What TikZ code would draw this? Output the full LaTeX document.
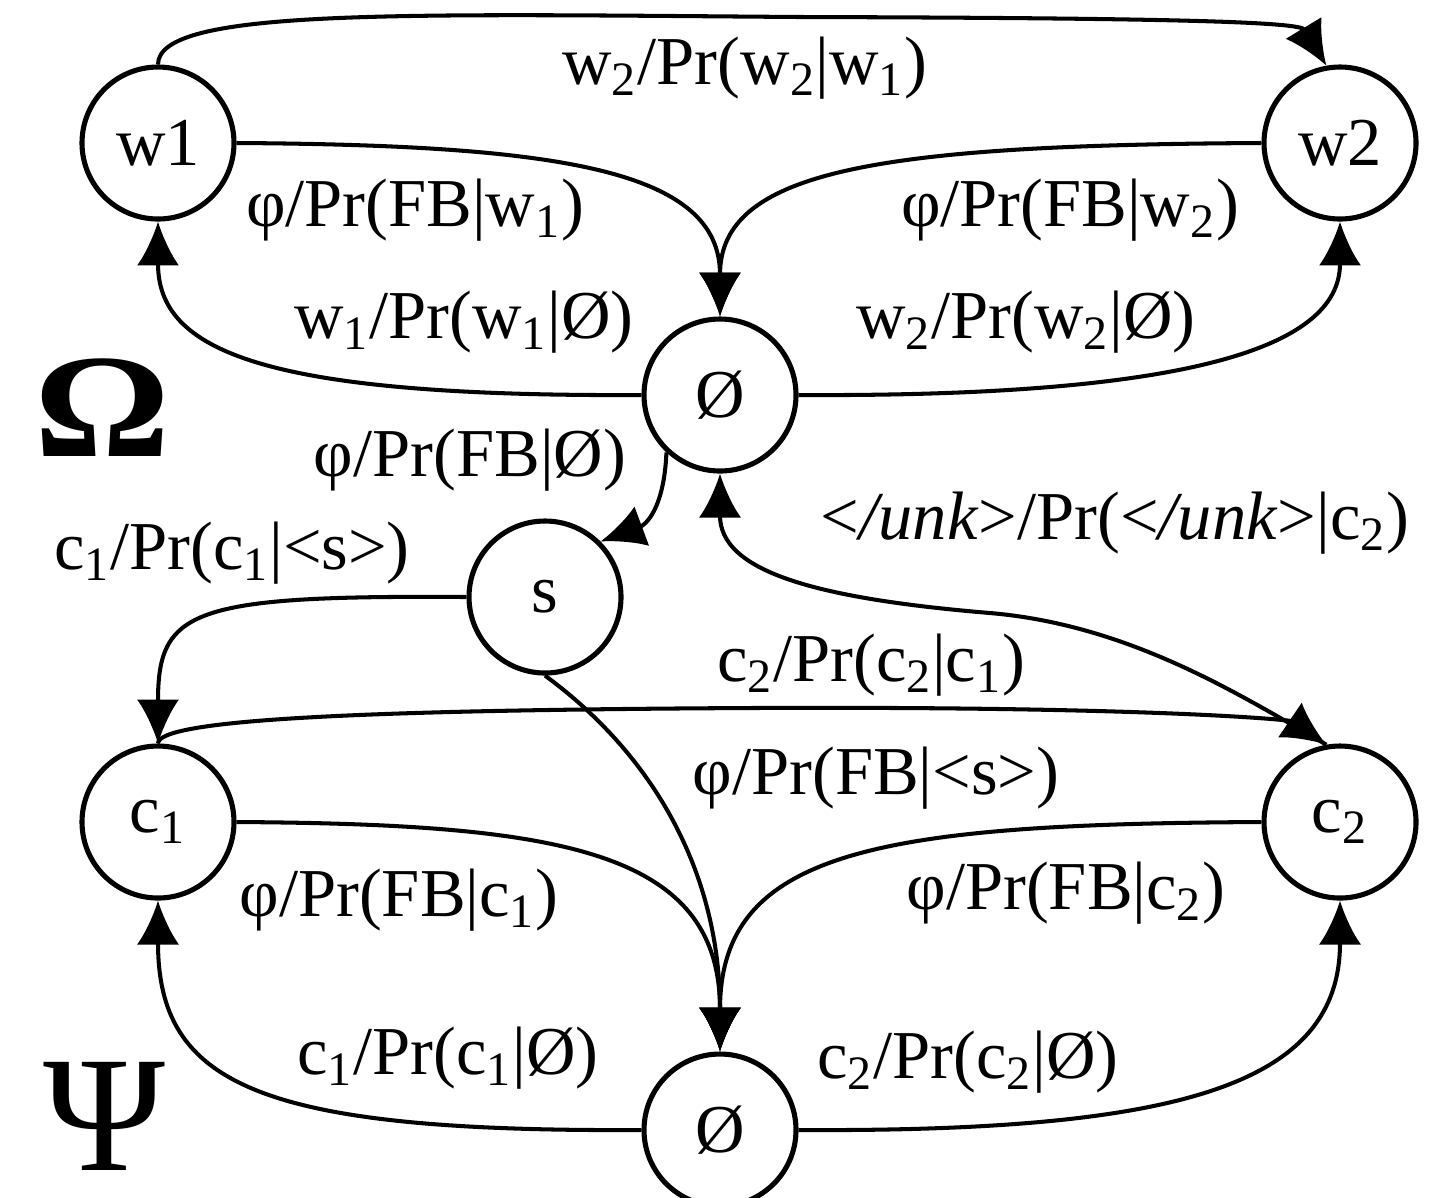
\documentclass[tikz,border=0pt]{standalone}
\usepackage{fontspec}
\setmainfont{Liberation Serif}
\usetikzlibrary{arrows.meta}
\newcommand{\low}[1]{\textsubscript{#1}}

\begin{document}
\begin{tikzpicture}[x=1cm,y=-1cm,
    state/.style={draw,circle,line width=1.45pt,minimum size=1.52cm,inner sep=0pt,font=\fontsize{19.5}{22}\selectfont},
    arc/.style={line width=1.15pt,-{Latex[length=12.5pt,width=12pt]}},
    lbl/.style={inner sep=0pt,font=\fontsize{19.5}{22}\selectfont}]
  \useasboundingbox (0,0) rectangle (14.3,11.97);
  % states
  \node[state] (w1) at (1.58,1.43) {w1};
  \node[state] (w2) at (13.40,1.43) {w2};
  \node[state] (nt) at (7.20,3.95) {Ø};
  \node[state] (s) at (5.45,5.97) {s};
  \node[state] (c1) at (1.58,8.22) {c\low{1}};
  \node[state] (c2) at (13.40,8.22) {c\low{2}};
  \node[state] (nb) at (7.20,11.30) {Ø};
  \node[inner sep=0pt,xscale=1.15] (omega) at (1.02,4.08) {\fontsize{42}{42}\selectfont\bfseries Ω};
  \node[inner sep=0pt] (psi) at (1.04,11.16) {\fontsize{47}{47}\selectfont Ψ};
  % Omega transitions
  \draw[arc] (w1.north) .. controls (1.58,0.08) and (4.0,0.14) .. (8.0,0.17)
    .. controls (11.8,0.18) and (13.0,0.22) .. (w2.100);
  \draw[arc] (w1.east) .. controls (5.6,1.45) and (7.2,1.7) .. (nt.north);
  \draw[arc] (w2.west) .. controls (8.8,1.45) and (7.2,1.7) .. (nt.north);
  \draw[arc] (nt.west) .. controls (2.6,3.97) and (1.58,3.5) .. (w1.south);
  \draw[arc] (nt.east) .. controls (11.8,3.97) and (13.4,3.5) .. (w2.south);
  \draw[arc] (nt.-133) .. controls (6.64,5.1) and (6.45,5.25) .. (s.45);
  % Psi transitions
  \draw[arc] (s.west) .. controls (1.9,5.95) and (1.58,6.1) .. (c1.north);
  \draw[arc] (c1.north) .. controls (1.58,7.2) and (3.5,7.1) .. (7.5,7.08)
    .. controls (11.5,7.06) and (12.9,7.2) .. (c2.100);
  \draw[arc] (c2.100) .. controls (12.4,6.95) and (11.3,6.25) .. (9.9,6.13)
    .. controls (8.1,5.98) and (7.2,5.7) .. (nt.south);
  \draw[arc] (s.south) .. controls (6.6,7.6) and (7.2,8.8) .. (nb.north);
  \draw[arc] (c1.east) .. controls (5.6,8.24) and (7.2,8.5) .. (nb.north);
  \draw[arc] (c2.west) .. controls (8.8,8.24) and (7.2,8.5) .. (nb.north);
  \draw[arc] (nb.west) .. controls (2.6,11.32) and (1.58,10.85) .. (c1.south);
  \draw[arc] (nb.east) .. controls (11.8,11.32) and (13.4,10.85) .. (c2.south);
  % labels
  \node[lbl] (l1) at (7.45,0.68) {w\low{2}/Pr(w\low{2}|w\low{1})};
  \node[lbl] (l2) at (4.15,2.10) {φ/Pr(FB|w\low{1})};
  \node[lbl] (l3) at (10.70,2.10) {φ/Pr(FB|w\low{2})};
  \node[lbl] (l4) at (4.64,3.22) {w\low{1}/Pr(w\low{1}|Ø)};
  \node[lbl] (l5) at (10.26,3.22) {w\low{2}/Pr(w\low{2}|Ø)};
  \node[lbl] (l6) at (4.70,4.60) {φ/Pr(FB|Ø)};
  \node[lbl] (l7) at (2.32,5.53) {c\low{1}/Pr(c\low{1}|<s>)};
  \node[lbl] (l8) at (11.15,5.23) {<\textit{/unk}>/Pr(<\textit{/unk}>|c\low{2})};
  \node[lbl] (l9) at (8.71,6.65) {c\low{2}/Pr(c\low{2}|c\low{1})};
  \node[lbl] (l10) at (8.76,7.78) {φ/Pr(FB|<s>)};
  \node[lbl] (l11) at (3.99,9.00) {φ/Pr(FB|c\low{1})};
  \node[lbl] (l12) at (10.66,8.93) {φ/Pr(FB|c\low{2})};
  \node[lbl] (l13) at (4.48,10.58) {c\low{1}/Pr(c\low{1}|Ø)};
  \node[lbl] (l14) at (9.68,10.62) {c\low{2}/Pr(c\low{2}|Ø)};
\end{tikzpicture}
\end{document}
